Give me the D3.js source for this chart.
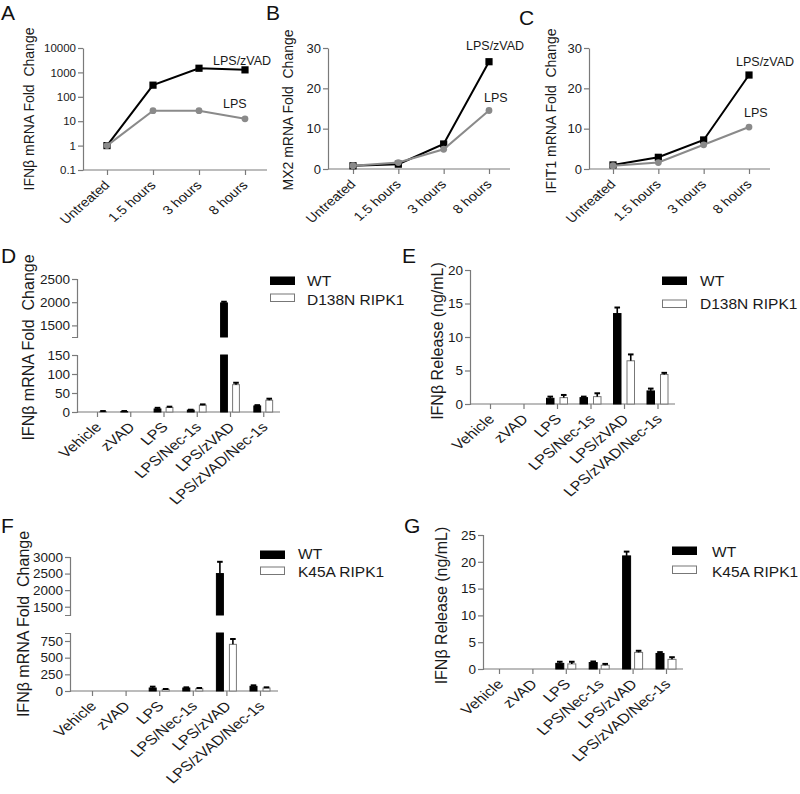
<!DOCTYPE html>
<html><head><meta charset="utf-8">
<script src="https://cdn.jsdelivr.net/npm/d3@7"></script>
<style>
body{margin:0;background:#fff}
svg{display:block;font-family:"Liberation Sans",Arial,sans-serif}
.ttl{white-space:pre}
</style>
</head><body><svg id="c" width="800" height="794"></svg>
<script>
// ---------- data ----------
const timepoints = ["Untreated", "1.5 hours", "3 hours", "8 hours"];
const ifnbLpsZvad = [1, 300, 1480, 1270];
const ifnbLps = [1, 27, 27, 12.5];
const mx2LpsZvad = [0.8, 1.2, 6.2, 26.6];
const mx2Lps = [0.8, 1.6, 4.9, 14.5];
const ifit1LpsZvad = [1.0, 2.9, 7.2, 23.3];
const ifit1Lps = [0.8, 1.6, 6.0, 10.4];
const logTicks = [0.1, 1, 10, 100, 1000, 10000];
const linTicks = [0, 10, 20, 30];

const treatments = ["Vehicle", "zVAD", "LPS", "LPS/Nec-1s", "LPS/zVAD", "LPS/zVAD/Nec-1s"];
const dWT = [0, 1, 8, 5, 1985, 16];
const dWTerr = [0, 1.5, 3, 1, 25, 2];
const dD138N = [1, 0, 12, 18, 72, 31];
const dD138Nerr = [1.5, 0, 2, 2, 5, 4];
const dLowTicks = [0, 50, 100, 150];
const dHighTicks = [1500, 2000, 2500];

const eWT = [0, 0, 0.85, 0.95, 13.5, 1.95];
const eWTerr = [0, 0, 0.25, 0.15, 0.9, 0.35];
const eD138N = [0, 0, 0.95, 1.1, 6.45, 4.4];
const eD138Nerr = [0, 0, 0.4, 0.5, 0.95, 0.25];
const eTicks = [0, 5, 10, 15, 20];

const fWT = [0, 0, 45, 45, 2500, 70];
const fWTerr = [0, 0, 20, 10, 355, 15];
const fK45A = [0, 0, 25, 35, 700, 45];
const fK45Aerr = [0, 0, 5, 10, 80, 10];
const fLowTicks = [0, 250, 500, 750];
const fHighTicks = [1500, 2000, 2500, 3000];

const gWT = [0, 0, 1.05, 1.2, 21.1, 2.9];
const gWTerr = [0, 0, 0.3, 0.2, 0.8, 0.25];
const gK45A = [0, 0, 0.95, 0.7, 3.1, 1.8];
const gK45Aerr = [0, 0, 0.4, 0.25, 0.3, 0.4];
const gTicks = [0, 5, 10, 15, 20, 25];

// ---------- drawing ----------
const svg = d3.select("#c");
const AX = "#7a7a7a";
const TXT = "#1a1a1a";
const GRAY = "#8a8a8a";
const FF = '"Liberation Sans",Arial,sans-serif';

function styleAxis(sel, fs) {
  sel.attr("font-size", fs).attr("font-family", FF);
  sel.selectAll("path,line").attr("stroke", AX).attr("stroke-width", 1.2);
  sel.selectAll("text").attr("fill", TXT).attr("font-size", fs).style("font-size", fs + "px");
}

function letter(t, x, y) {
  svg.append("text").attr("x", x).attr("y", y).text(t)
    .style("font-size", "21px").attr("fill", "#111");
}

function yTitle(t, cx, cy, fs) {
  svg.append("text").attr("class", "ttl")
    .attr("transform", `translate(${cx + 0.25 * fs},${cy}) rotate(-90)`)
    .attr("text-anchor", "middle").style("font-size", fs + "px").attr("fill", TXT).text(t);
}

function lineChart(cfg) {
  const g = svg.append("g");
  const x = d3.scalePoint().domain(timepoints).range([cfg.x0, cfg.x1]);
  const y = cfg.log
    ? d3.scaleLog().domain([0.1, 10000]).range([cfg.yb, cfg.yt])
    : d3.scaleLinear().domain([0, 30]).range([cfg.yb, cfg.yt]);
  const ya = g.append("g").attr("transform", `translate(${cfg.ax},0)`)
    .call(d3.axisLeft(y).tickValues(cfg.ticks).tickFormat(d3.format("~g")).tickSize(5).tickSizeOuter(0).tickPadding(2));
  styleAxis(ya, cfg.tfs);
  g.append("line").attr("x1", cfg.ax).attr("x2", cfg.xe).attr("y1", cfg.yb).attr("y2", cfg.yb)
    .attr("stroke", AX).attr("stroke-width", 1.2);
  const xa = g.append("g").attr("transform", `translate(0,${cfg.yb})`).call(d3.axisBottom(x).tickSize(5));
  xa.select(".domain").remove();
  styleAxis(xa, 12.5);
  xa.selectAll("text").attr("y", null).attr("dy", null).attr("text-anchor", "end")
    .attr("transform", "translate(3,16) scale(1.15,1) rotate(-45)");
  const line = d3.line().x((d, i) => x(timepoints[i])).y(d => y(d));
  g.append("path").datum(cfg.a).attr("d", line).attr("fill", "none").attr("stroke", "#000").attr("stroke-width", 2);
  g.selectAll(".sq").data(cfg.a).enter().append("rect")
    .attr("x", (d, i) => x(timepoints[i]) - 3.6).attr("y", d => y(d) - 3.6)
    .attr("width", 7.2).attr("height", 7.2).attr("fill", "#000");
  g.append("path").datum(cfg.b).attr("d", line).attr("fill", "none").attr("stroke", GRAY).attr("stroke-width", 2);
  g.selectAll(".ci").data(cfg.b).enter().append("circle")
    .attr("cx", (d, i) => x(timepoints[i])).attr("cy", d => y(d)).attr("r", 3.4).attr("fill", GRAY);
  g.append("text").attr("x", cfg.la[0]).attr("y", cfg.la[1]).text("LPS/zVAD").style("font-size", "12.5px").attr("fill", TXT);
  g.append("text").attr("x", cfg.lb[0]).attr("y", cfg.lb[1]).text("LPS").style("font-size", "12.5px").attr("fill", TXT);
}

function barChart(cfg) {
  const g = svg.append("g");
  const groups = ["WT", cfg.mutName];
  const x = d3.scalePoint().domain(treatments).range([cfg.c0, cfg.c1]);
  const xs = d3.scaleBand().domain(groups).range([-cfg.h, cfg.h]).paddingInner(cfg.pi);
  const segs = cfg.segs.map(s => ({ ...s, y: d3.scaleLinear().domain(s.d).range(s.r) }));
  segs.forEach(s => {
    const ya = g.append("g").attr("transform", `translate(${cfg.ax},0)`)
      .call(d3.axisLeft(s.y).tickValues(s.t).tickFormat(d3.format("d")).tickSize(5).tickSizeOuter(5).tickPadding(2));
    styleAxis(ya, 13.5);
  });
  const yb = cfg.segs[0].r[0];
  g.append("line").attr("x1", cfg.ax).attr("x2", cfg.xe).attr("y1", yb).attr("y2", yb)
    .attr("stroke", AX).attr("stroke-width", 1.2);
  const xa = g.append("g").attr("transform", `translate(0,${yb})`).call(d3.axisBottom(x).tickSize(5));
  xa.select(".domain").remove();
  styleAxis(xa, 13.5);
  xa.selectAll("text").attr("y", null).attr("dy", null).attr("text-anchor", "end")
    .attr("transform", "translate(5,16) scale(1.2,1) rotate(-45)");

  const series = [
    { key: "WT", vals: cfg.wt, errs: cfg.wtErr, fill: "#000", stroke: "#000" },
    { key: cfg.mutName, vals: cfg.mut, errs: cfg.mutErr, fill: "#fff", stroke: "#777" }
  ];
  series.forEach(s => {
    s.vals.forEach((v, i) => {
      const cx = x(treatments[i]) + xs(s.key);
      const bw = xs.bandwidth();
      segs.forEach(seg => {
        if (v > seg.d[0]) {
          const top = seg.y(Math.min(v, seg.d[1]));
          const bot = seg.y(seg.d[0]);
          g.append("rect").attr("x", cx + 0.5).attr("y", top).attr("width", bw - 1).attr("height", bot - top)
            .attr("fill", s.fill).attr("stroke", s.stroke).attr("stroke-width", 1);
        }
      });
      const e = s.errs[i];
      if (e > 0) {
        const seg = segs.find(sg => v >= sg.d[0] && v <= sg.d[1]) || segs[0];
        const y0 = seg.y(v), y1 = seg.y(Math.min(v + e, seg.d[1]));
        const mid = cx + bw / 2;
        g.append("line").attr("x1", mid).attr("x2", mid).attr("y1", y0).attr("y2", y1)
          .attr("stroke", "#000").attr("stroke-width", 1.6);
        g.append("line").attr("x1", mid - 2.8).attr("x2", mid + 2.8).attr("y1", y1).attr("y2", y1)
          .attr("stroke", "#000").attr("stroke-width", 2);
      }
    });
  });
  series.forEach((s, k) => {
    g.append("rect").attr("x", cfg.lg.rx + 0.5).attr("y", cfg.lg.ry[k]).attr("width", 24).attr("height", 7.5)
      .attr("fill", s.fill).attr("stroke", s.stroke).attr("stroke-width", 1);
    g.append("text").attr("x", cfg.lg.tx).attr("y", cfg.lg.tb[k]).text(s.key)
      .style("font-size", "15.5px").attr("fill", TXT);
  });
}

lineChart({ log: true, ticks: logTicks, tfs: 11.5, ax: 83, x0: 107, x1: 245, xe: 267, yb: 170, yt: 48,
  a: ifnbLpsZvad, b: ifnbLps, la: [213, 65], lb: [223, 108] });
lineChart({ log: false, ticks: linTicks, tfs: 13, ax: 328, x0: 353, x1: 489, xe: 510, yb: 169, yt: 48,
  a: mx2LpsZvad, b: mx2Lps, la: [466, 50], lb: [484, 102] });
lineChart({ log: false, ticks: linTicks, tfs: 13, ax: 589, x0: 613, x1: 749, xe: 770, yb: 169, yt: 48,
  a: ifit1LpsZvad, b: ifit1Lps, la: [736, 66], lb: [744, 117] });

barChart({ mutName: "D138N RIPK1", wt: dWT, wtErr: dWTerr, mut: dD138N, mutErr: dD138Nerr,
  ax: 77, xe: 280, c0: 97, c1: 263.25, h: 9.9, pi: 0.35,
  segs: [{ d: [0, 150], r: [412, 355], t: dLowTicks }, { d: [1250, 2500], r: [337, 279], t: dHighTicks }],
  lg: { rx: 270, ry: [277, 294], tx: 307, tb: [286, 305] } });
barChart({ mutName: "D138N RIPK1", wt: eWT, wtErr: eWTerr, mut: eD138N, mutErr: eD138Nerr,
  ax: 470, xe: 675, c0: 490, c1: 657.5, h: 11, pi: 0.37,
  segs: [{ d: [0, 20], r: [404, 270], t: eTicks }],
  lg: { rx: 662, ry: [277, 300], tx: 700, tb: [286, 309] } });
barChart({ mutName: "K45A RIPK1", wt: fWT, wtErr: fWTerr, mut: fK45A, mutErr: fK45Aerr,
  ax: 70, xe: 278, c0: 92, c1: 260, h: 10.5, pi: 0.385,
  segs: [{ d: [0, 870], r: [691, 633], t: fLowTicks }, { d: [1250, 3000], r: [615, 557], t: fHighTicks }],
  lg: { rx: 260, ry: [551, 567], tx: 298, tb: [559, 577] } });
barChart({ mutName: "K45A RIPK1", wt: gWT, wtErr: gWTerr, mut: gK45A, mutErr: gK45Aerr,
  ax: 483, xe: 683, c0: 499, c1: 666, h: 10.5, pi: 0.25,
  segs: [{ d: [0, 25], r: [669, 535], t: gTicks }],
  lg: { rx: 672, ry: [547, 566], tx: 712, tb: [557, 577] } });

yTitle("IFNβ mRNA Fold  Change", 30, 109, 14);
yTitle("MX2 mRNA Fold  Change", 289.5, 110, 14);
yTitle("IFIT1 mRNA Fold  Change", 552, 111, 14);
yTitle("IFNβ mRNA Fold  Change", 30, 347.5, 16);
yTitle("IFNβ Release (ng/mL)", 438.5, 341, 16);
yTitle("IFNβ mRNA Fold  Change", 25, 624, 16);
yTitle("IFNβ Release (ng/mL)", 442.5, 605.5, 16);

letter("A", 1, 20);
letter("B", 266, 20);
letter("C", 519, 25);
letter("D", 1, 263);
letter("E", 402, 263);
letter("F", 1, 533);
letter("G", 404, 533);
</script>
</body></html>
